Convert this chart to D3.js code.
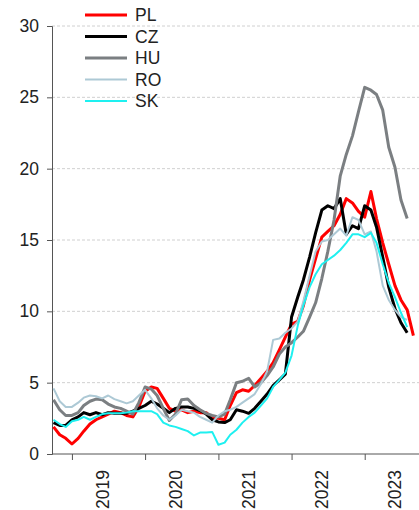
<!DOCTYPE html>
<html>
<head>
<meta charset="utf-8">
<script src="https://cdn.jsdelivr.net/npm/d3@7"></script>
<style>
  body { margin: 0; background: #fff; }
  text { font-family: "Liberation Sans", Arial, sans-serif; }
</style>
</head>
<body>
<div id="chart"></div>
<script>
// monthly data, Oct 2018 onwards
var startMonth = new Date(2018, 9, 1);
var years = [2019, 2020, 2021, 2022, 2023];
var yTicks = [0, 5, 10, 15, 20, 25, 30];
var countries = ["PL", "CZ", "HU", "RO", "SK"];

var plValues = [1.9, 1.35, 1.1, 0.7, 1.1, 1.6, 2.1, 2.4, 2.6, 2.8, 3.0, 2.9, 2.7, 2.6, 3.3, 4.4,
  4.7, 4.6, 3.9, 3.2, 3.0, 3.1, 2.9, 3.0, 2.9, 2.9, 2.5, 2.5, 2.4, 3.4, 4.3, 4.5,
  4.4, 4.8, 5.3, 5.8, 6.4, 7.3, 8.2, 9.1, 9.3, 10.4, 12.2, 13.7, 15.2, 15.6, 16.0, 16.8,
  17.9, 17.6, 17.0, 16.6, 18.4, 16.5, 14.8, 13.3, 11.8, 10.8, 10.1, 8.3];
var czValues = [2.2, 2.0, 2.0, 2.4, 2.6, 2.9, 2.75, 2.9, 2.75, 2.9, 2.85, 2.85, 2.85, 3.0, 3.2, 3.4,
  3.7, 3.5, 3.2, 2.9, 3.2, 3.3, 3.3, 3.2, 3.05, 2.8, 2.4, 2.25, 2.2, 2.4, 3.1, 3.0,
  2.85, 3.2, 3.7, 4.2, 4.8, 5.2, 5.6, 9.6, 11.0, 12.2, 13.8, 15.5, 17.1, 17.4, 17.2, 17.9,
  15.4, 16.0, 15.8, 17.4, 17.1, 15.9, 13.8, 11.7, 10.2, 9.2, 8.5];
var huValues = [3.8, 3.1, 2.7, 2.7, 2.9, 3.4, 3.7, 3.85, 3.8, 3.5, 3.3, 3.2, 3.0, 2.8, 3.6, 4.7,
  4.55, 4.1, 3.2, 2.35, 2.8, 3.8, 3.85, 3.4, 3.1, 2.85, 2.7, 2.6, 2.8, 3.8, 5.0, 5.1,
  5.3, 4.7, 5.0, 5.5, 6.1, 7.0, 7.5, 7.8, 8.2, 8.6, 9.6, 10.6, 12.3, 14.2, 16.4, 19.5,
  21.0, 22.3, 24.0, 25.7, 25.5, 25.2, 24.1, 21.5, 20.1, 17.8, 16.5];
var roValues = [4.6, 3.7, 3.3, 3.3, 3.6, 3.95, 4.1, 4.05, 3.9, 4.1, 3.85, 3.7, 3.55, 3.7, 4.1, 4.5,
  3.9, 3.2, 2.7, 2.4, 2.7, 3.1, 3.0, 2.9, 2.6, 2.4, 2.2, 2.7, 3.0, 3.1, 3.3, 3.6,
  3.9, 4.2, 4.9, 5.8, 8.0, 8.1, 8.5, 8.8, 9.3, 10.7, 12.5, 14.2, 14.9, 15.0, 15.4, 15.8,
  15.3, 16.6, 16.4, 15.4, 15.6, 14.2, 11.8, 10.8, 10.1, 9.6, 9.4];
var skValues = [2.4, 2.1, 1.9, 2.3, 2.4, 2.6, 2.4, 2.6, 2.8, 2.85, 2.85, 2.85, 2.9, 3.0, 3.0, 3.0,
  3.0, 2.8, 2.2, 2.0, 1.9, 1.75, 1.6, 1.3, 1.5, 1.5, 1.55, 0.65, 0.8, 1.35, 1.7, 2.2,
  2.6, 2.9, 3.4, 3.9, 4.7, 5.2, 5.7, 6.9, 9.0, 10.4, 11.7, 12.6, 13.3, 13.6, 13.9, 14.3,
  14.8, 15.4, 15.4, 15.2, 15.5, 14.8, 13.3, 12.0, 11.0, 9.9, 8.9];

var allValues = [plValues, czValues, huValues, roValues, skValues];
var colors = ["#ff0000", "#000000", "#7b7f82", "#adc9d5", "#1ef0f0"];
var widths = [3, 3, 3, 2, 2];

var svgWidth = 419;
var svgHeight = 510;

var svg = d3.select("#chart")
  .append("svg")
  .attr("width", svgWidth)
  .attr("height", svgHeight);

function monthDate(i) {
  return new Date(startMonth.getFullYear(), startMonth.getMonth() + i, 1);
}

// scales
var x = d3.scaleTime()
  .domain([monthDate(0), monthDate(59)])
  .range([53.5, 413.4]);

var y = d3.scaleLinear()
  .domain([0, 30])
  .range([454, 26]);

// gridlines
svg.append("g")
  .selectAll("line")
  .data(yTicks.slice(1))
  .enter()
  .append("line")
  .attr("x1", 52)
  .attr("x2", svgWidth)
  .attr("y1", d => y(d))
  .attr("y2", d => y(d))
  .attr("stroke", "#d0d0d0")
  .attr("stroke-dasharray", "3,2")
  .attr("stroke-width", 1);

// y axis
var yAxis = svg.append("g")
  .attr("transform", "translate(52,0)")
  .call(d3.axisLeft(y).tickValues(yTicks).tickSize(5).tickPadding(8));
yAxis.select(".domain").attr("stroke", "#555");
yAxis.selectAll(".tick line").attr("stroke", "#555");
yAxis.selectAll("text")
  .attr("font-size", 17.5)
  .attr("fill", "#222");

// x axis, ticks on year boundaries
var yearStarts = years.map(d => new Date(d, 0, 1));
var xAxis = svg.append("g")
  .attr("transform", "translate(0,454)")
  .call(d3.axisBottom(x).tickValues(yearStarts).tickSize(6).tickFormat(""));
xAxis.select(".domain")
  .attr("d", "M52,0H" + svgWidth)
  .attr("stroke", "#555");
xAxis.selectAll(".tick line").attr("stroke", "#555");

// year labels in the middle of each year, rotated
var yearMids = years.map(d => new Date(d, 6, 1));
var xLabels = svg.append("g")
  .attr("transform", "translate(0,454)")
  .call(d3.axisBottom(x).tickValues(yearMids).tickSize(0).tickFormat(d3.timeFormat("%Y")));
xLabels.select(".domain").remove();
xLabels.selectAll("text")
  .attr("transform", "rotate(-90)")
  .attr("x", -16)
  .attr("y", 0)
  .attr("dy", 0)
  .attr("text-anchor", "end")
  .attr("font-size", 17.5)
  .attr("fill", "#222");

// lines
var line = d3.line()
  .x((d, i) => x(monthDate(i)))
  .y(d => y(d));

countries.forEach(function(c, k) {
  svg.append("path")
    .datum(allValues[k])
    .attr("fill", "none")
    .attr("stroke", colors[k])
    .attr("stroke-width", widths[k])
    .attr("stroke-linejoin", "round")
    .attr("d", line);
});

// legend
var legend = svg.append("g")
  .attr("transform", "translate(85,15)");
countries.forEach(function(c, k) {
  var row = legend.append("g").attr("transform", `translate(0, ${k * 21.5})`);
  row.append("line")
    .attr("x1", 0)
    .attr("x2", 42)
    .attr("stroke", colors[k])
    .attr("stroke-width", widths[k]);
  row.append("text")
    .attr("x", 50)
    .attr("dy", "0.37em")
    .attr("font-size", 17.5)
    .attr("fill", "#222")
    .text(c);
});
</script>
</body>
</html>
